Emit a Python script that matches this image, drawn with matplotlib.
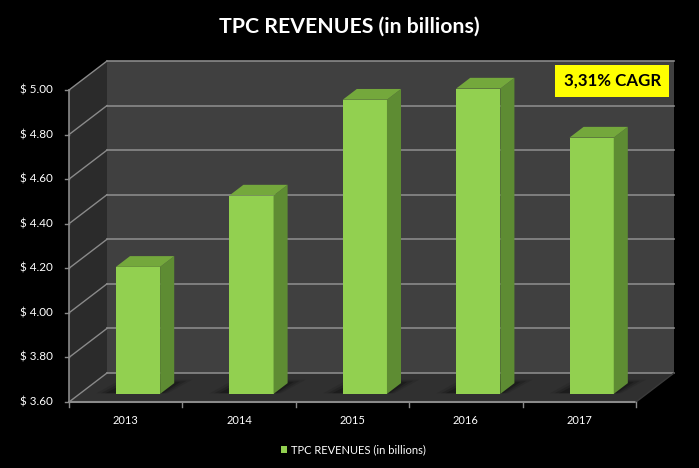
import matplotlib
matplotlib.use("Agg")
from matplotlib import pyplot as plt
from matplotlib.patches import Polygon, Rectangle

# data
years = ['2013', '2014', '2015', '2016', '2017']
revenues = [4.17, 4.49, 4.92, 4.97, 4.75]
y_ticks = [3.60, 3.80, 4.00, 4.20, 4.40, 4.60, 4.80, 5.00]
title = 'TPC REVENUES (in billions)'
cagr_label = '3,31% CAGR'

plt.rcParams['font.family'] = ['Lato', 'DejaVu Sans']

W, H = 699, 468
fig = plt.figure(figsize=(W / 100, H / 100), dpi=100, facecolor='black')

# front plane of the 3d box (pixels): x 69..636, y 402 (3.60) .. 90 (5.00)
left, right, bottom, top = 69, 636, 402, 90
ax = fig.add_axes([left / W, (H - bottom) / H, (right - left) / W, (bottom - top) / H])
ax.set_xlim(-0.5, 4.5)
ax.set_ylim(3.6, 5.0)
ax.axis('off')

# depth offset in pixels -> data units
DX, DY = 38, 29
kx = DX / ((right - left) / 5.0)
ky = DY / ((bottom - top) / 1.4)


def P(x, y, d):
    return (x + d * kx, y + d * ky)


x0, x1, y0, y1 = -0.5, 4.5, 3.6, 5.0
wall_back = '#404040'
wall_side = '#2b2b2b'
floor_c = '#303030'
grid_c = '#8a8a8a'

# walls and floor
ax.add_patch(Polygon([P(x0, y0, 1), P(x1, y0, 1), P(x1, y1, 1), P(x0, y1, 1)],
                     closed=True, fc=wall_back, ec='none', clip_on=False))
ax.add_patch(Polygon([P(x0, y0, 0), P(x0, y0, 1), P(x0, y1, 1), P(x0, y1, 0)],
                     closed=True, fc=wall_side, ec='none', clip_on=False))
ax.add_patch(Polygon([P(x0, y0, 0), P(x1, y0, 0), P(x1, y0, 1), P(x0, y0, 1)],
                     closed=True, fc=floor_c, ec='none', clip_on=False))

# gridlines on back wall + left wall
for v in y_ticks:
    a, b = P(x0, v, 1), P(x1, v, 1)
    ax.plot([a[0], b[0]], [a[1], b[1]], color=grid_c, lw=1.2, clip_on=False)
    a, b = P(x0, v, 0), P(x0, v, 1)
    ax.plot([a[0], b[0]], [a[1], b[1]], color=grid_c, lw=1.0, clip_on=False)

# front axis lines
ax.plot([x0, x0], [y0, y1], color=grid_c, lw=1.2, clip_on=False)
ax.plot([x0, x1], [y0, y0], color=grid_c, lw=1.5, clip_on=False)
a = P(x1, y0, 1)
ax.plot([x1, a[0]], [y0, a[1]], color='#3a3a3a', lw=1.0, clip_on=False)

# ticks
tx = 4 * (1.0 / ((right - left) / 5.0))
ty = 5 * (1.4 / (bottom - top))
for v in y_ticks:
    ax.plot([x0 - tx, x0], [v, v], color=grid_c, lw=1.0, clip_on=False)
    ax.text(x0 - 0.14, v, '$ %.2f' % v, color='white', fontsize=8.4,
            ha='right', va='center')
for i in range(6):
    ax.plot([x0 + i, x0 + i], [y0, y0 - ty], color=grid_c, lw=1.0, clip_on=False)
for i, yr in enumerate(years):
    ax.text(i, y0 - 18 * (1.4 / (bottom - top)), yr, color='white', fontsize=8,
            ha='center', va='center')

# bars
f0, f1 = 0.28, 0.65
bw = 0.39
front_c, side_c, top_c = '#92d050', '#5e8c33', '#74a83c'
xs = [i + 0.015 for i in range(len(years))]

# soft shadows on the floor
for i, xc in enumerate(xs):
    xl, xr = xc - bw / 2, xc + bw / 2
    for grow, alpha in [(0.12, 0.10), (0.08, 0.15), (0.04, 0.22)]:
        ax.add_patch(Polygon([P(xl - grow - 0.06, y0, f0 + 0.02), P(xr + grow * 0.5, y0, f0 + 0.02),
                              P(xr + grow, y0, f1 + grow), P(xl - grow, y0, f1 + grow)],
                             closed=True, fc='black', ec='none', alpha=alpha, clip_on=False))

front_x = [P(xc, y0, f0)[0] for xc in xs]
heights = [v - y0 for v in revenues]
ax.bar(front_x, heights, width=bw, bottom=y0 + f0 * ky, color=front_c,
       edgecolor='none', label=title, clip_on=False, zorder=3)
for xc, v in zip(xs, revenues):
    xl, xr = xc - bw / 2, xc + bw / 2
    ax.add_patch(Polygon([P(xr, y0, f0), P(xr, y0, f1), P(xr, v, f1), P(xr, v, f0)],
                         closed=True, fc=side_c, ec='none', clip_on=False, zorder=3))
    ax.add_patch(Polygon([P(xl, v, f0), P(xr, v, f0), P(xr, v, f1), P(xl, v, f1)],
                         closed=True, fc=top_c, ec='none', clip_on=False, zorder=3))

# title
fig.text(349.5 / W, 1 - 27 / H, title, color='white', fontsize=15.3,
         fontweight='bold', ha='center', va='center')

# CAGR box
fig.add_artist(Rectangle((555 / W, 1 - 97 / H), 114 / W, 32 / H,
                         transform=fig.transFigure, fc='#ffff00', ec='none'))
fig.text(613 / W, 1 - 81 / H, cagr_label, color='black', fontsize=12.2,
         fontweight='bold', ha='center', va='center')

# legend
fig.legend(loc='center', bbox_to_anchor=(353 / W, 1 - 450 / H), frameon=False,
           labelcolor='white', fontsize=8, handlelength=0.6, handleheight=0.6,
           handletextpad=0.3, borderpad=0)

fig.savefig('out.png', dpi=100, facecolor='black')
